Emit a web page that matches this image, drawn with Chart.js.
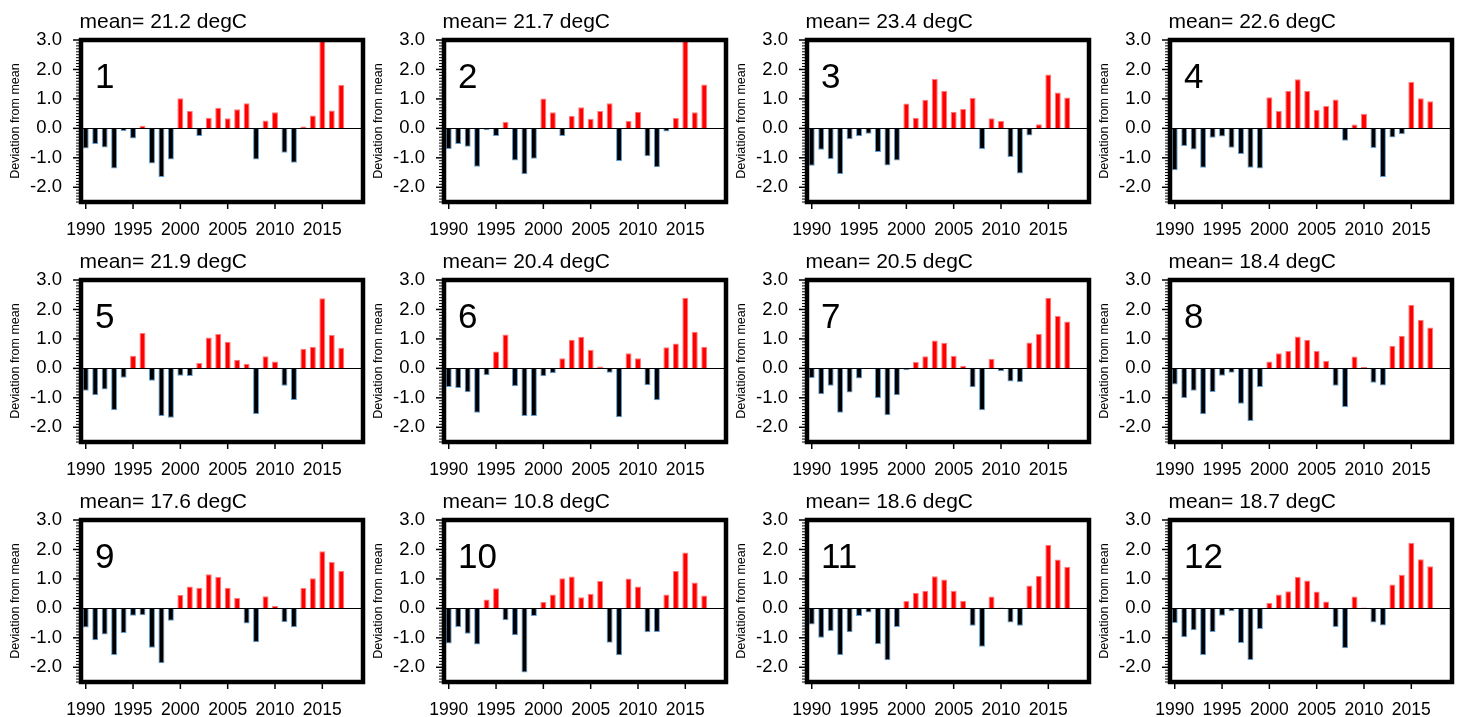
<!DOCTYPE html>
<html>
<head>
<meta charset="utf-8">
<script src="https://cdn.jsdelivr.net/npm/chart.js@4.4.1/dist/chart.umd.min.js"></script>
<style>
  html, body { margin: 0; padding: 0; background: #fff; width: 1458px; height: 717px; overflow: hidden; }
  .panel { position: absolute; width: 368px; height: 240px; }
</style>
</head>
<body>
<script>
// Years on the horizontal axis
const years = [1990, 1991, 1992, 1993, 1994, 1995, 1996, 1997, 1998, 1999,
               2000, 2001, 2002, 2003, 2004, 2005, 2006, 2007, 2008, 2009,
               2010, 2011, 2012, 2013, 2014, 2015, 2016, 2017];

// Annual deviation from the long-term mean (degC), one array per station
const dev1  = [-0.68, -0.53, -0.65, -1.36, -0.09, -0.34, 0.09, -1.19, -1.65, -1.06, 1.02, 0.59, -0.26, 0.36, 0.70, 0.34, 0.65, 0.85, -1.06, 0.27, 0.55, -0.83, -1.17, 0.06, 0.44, 3.10, 0.61, 1.47];
const dev2  = [-0.70, -0.53, -0.62, -1.30, -0.06, -0.26, 0.22, -1.09, -1.56, -1.03, 1.01, 0.55, -0.26, 0.42, 0.72, 0.33, 0.59, 0.85, -1.11, 0.25, 0.56, -0.95, -1.32, -0.11, 0.35, 3.10, 0.55, 1.49];
const dev3  = [-1.27, -0.73, -1.04, -1.55, -0.37, -0.27, -0.18, -0.80, -1.26, -1.09, 0.84, 0.36, 0.97, 1.68, 1.27, 0.56, 0.66, 1.03, -0.70, 0.34, 0.25, -0.97, -1.53, -0.24, 0.14, 1.83, 1.22, 1.05];
const dev4  = [-1.42, -0.60, -0.72, -1.34, -0.32, -0.28, -0.66, -0.87, -1.34, -1.36, 1.06, 0.59, 1.28, 1.67, 1.27, 0.63, 0.76, 0.98, -0.42, 0.13, 0.50, -0.67, -1.65, -0.31, -0.20, 1.57, 1.02, 0.92];
const dev5  = [-0.76, -0.91, -0.72, -1.42, -0.32, 0.43, 1.20, -0.42, -1.62, -1.68, -0.25, -0.26, 0.18, 1.05, 1.17, 0.90, 0.29, 0.16, -1.55, 0.41, 0.23, -0.59, -1.07, 0.67, 0.73, 2.38, 1.13, 0.70];
const dev6  = [-0.63, -0.67, -0.81, -1.51, -0.23, 0.57, 1.15, -0.61, -1.62, -1.62, -0.27, -0.17, 0.34, 0.97, 1.07, 0.63, 0.06, -0.15, -1.66, 0.51, 0.34, -0.57, -1.08, 0.72, 0.84, 2.40, 1.24, 0.73];
const dev7  = [-0.33, -0.88, -0.59, -1.51, -0.82, -0.34, -0.01, -1.01, -1.59, -0.91, -0.06, 0.22, 0.41, 0.95, 0.87, 0.43, 0.08, -0.64, -1.42, 0.33, -0.10, -0.45, -0.47, 0.88, 1.17, 2.40, 1.78, 1.59];
const dev8  = [-0.55, -1.01, -0.76, -1.56, -0.80, -0.25, -0.15, -1.20, -1.79, -0.63, 0.23, 0.51, 0.60, 1.08, 0.97, 0.59, 0.26, -0.59, -1.31, 0.40, 0.05, -0.49, -0.58, 0.77, 1.11, 2.16, 1.65, 1.39];
const dev9  = [-0.65, -1.08, -0.89, -1.58, -0.84, -0.25, -0.23, -1.34, -1.86, -0.42, 0.45, 0.74, 0.70, 1.16, 1.07, 0.70, 0.35, -0.51, -1.15, 0.41, 0.08, -0.47, -0.64, 0.69, 1.02, 1.94, 1.57, 1.27];
const dev10 = [-1.19, -0.63, -0.86, -1.23, 0.30, 0.68, -0.40, -0.91, -2.18, -0.26, 0.22, 0.47, 1.02, 1.08, 0.38, 0.50, 0.93, -1.17, -1.59, 1.01, 0.74, -0.81, -0.80, 0.47, 1.27, 1.90, 0.88, 0.44];
const dev11 = [-0.55, -1.00, -0.77, -1.58, -0.81, -0.26, -0.14, -1.22, -1.76, -0.63, 0.25, 0.53, 0.60, 1.09, 0.98, 0.60, 0.26, -0.59, -1.30, 0.40, 0.03, -0.48, -0.59, 0.78, 1.11, 2.16, 1.66, 1.41];
const dev12 = [-0.50, -0.98, -0.74, -1.58, -0.80, -0.25, -0.10, -1.18, -1.75, -0.70, 0.18, 0.47, 0.58, 1.07, 0.95, 0.57, 0.23, -0.63, -1.35, 0.40, 0.03, -0.48, -0.58, 0.81, 1.14, 2.23, 1.67, 1.43];

// Long-term mean of each station (degC)
const means = [21.2, 21.7, 23.4, 22.6, 21.9, 20.4, 20.5, 18.4, 17.6, 10.8, 18.6, 18.7];
const panelNames = ['1', '2', '3', '4', '5', '6', '7', '8', '9', '10', '11', '12'];

// Axis ticks
const xTickValues = [1990, 1995, 2000, 2005, 2010, 2015];
const yTickValues = [-2, -1, 0, 1, 2, 3];

const series = [dev1, dev2, dev3, dev4, dev5, dev6, dev7, dev8, dev9, dev10, dev11, dev12];

const FONT = '"Liberation Sans", Arial, Helvetica, sans-serif';
Chart.defaults.font.family = FONT;
Chart.defaults.color = '#000';

const CANVAS_W = 368, CANVAS_H = 240;

// Frame, zero line, tick marks and panel texts
const framePlugin = {
  id: 'panelFrame',
  afterDatasetsDraw(chart) {
    const { ctx, chartArea: a, scales: { x, y } } = chart;
    ctx.save();
    ctx.strokeStyle = '#000';
    // zero line
    const y0 = Math.round(y.getPixelForValue(0)) + 0.5;
    ctx.lineWidth = 1;
    ctx.beginPath();
    ctx.moveTo(a.left, y0);
    ctx.lineTo(a.right, y0);
    ctx.stroke();
    // y ticks: minor every 0.1, major every 1.0
    for (let i = -25; i <= 30; i++) {
      const py = y.getPixelForValue(i / 10);
      const major = i % 10 === 0;
      ctx.lineWidth = major ? 1.5 : 1;
      ctx.beginPath();
      ctx.moveTo(a.left, py);
      ctx.lineTo(a.left - (major ? 8 : 5), py);
      ctx.stroke();
    }
    // x ticks
    ctx.lineWidth = 1.5;
    xTickValues.forEach(v => {
      const px = x.getPixelForValue(v);
      ctx.beginPath();
      ctx.moveTo(px, a.bottom);
      ctx.lineTo(px, a.bottom + 7);
      ctx.stroke();
    });
    // heavy frame
    ctx.lineWidth = 4.5;
    ctx.strokeRect(a.left, a.top, a.right - a.left, a.bottom - a.top);
    ctx.restore();
  },
  afterDraw(chart, args, opts) {
    const { ctx, chartArea: a } = chart;
    ctx.save();
    ctx.fillStyle = '#000';
    ctx.textBaseline = 'alphabetic';
    ctx.textAlign = 'left';
    ctx.font = '21px ' + FONT;
    ctx.fillText(opts.title, a.left - 1.5, a.top - 12.5);
    ctx.font = '35px ' + FONT;
    ctx.fillText(opts.name, a.left + 14, a.top + 47.5);
    ctx.restore();
  }
};

series.forEach((vals, k) => {
  const col = k % 4, row = Math.floor(k / 4);
  const div = document.createElement('div');
  div.className = 'panel';
  div.style.left = (col * 363) + 'px';
  div.style.top = (row * 240) + 'px';
  const cv = document.createElement('canvas');
  cv.width = CANVAS_W;
  cv.height = CANVAS_H;
  div.appendChild(cv);
  document.body.appendChild(div);

  new Chart(cv, {
    type: 'bar',
    data: {
      datasets: [{
        data: years.map((yr, i) => ({ x: yr, y: vals[i] })),
        backgroundColor: vals.map(v => v >= 0 ? '#ff0000' : '#000000'),
        borderColor: vals.map(v => v >= 0 ? '#ff7a7a' : '#5d9fd8'),
        borderWidth: 1,
        borderSkipped: 'start',
        barPercentage: 0.63,
        categoryPercentage: 1.0,
        clip: 0
      }]
    },
    options: {
      responsive: false,
      animation: false,
      devicePixelRatio: 1,
      layout: { padding: { left: 0, top: 40, right: CANVAS_W - 363, bottom: 0 } },
      plugins: {
        legend: { display: false },
        tooltip: { enabled: false },
        panelFrame: { title: 'mean= ' + means[k].toFixed(1) + ' degC', name: panelNames[k] }
      },
      scales: {
        x: {
          type: 'linear',
          offset: false,
          min: 1989.5,
          max: 2019.3,
          grid: { display: false, drawTicks: false },
          border: { display: false },
          afterBuildTicks: s => { s.ticks = xTickValues.map(v => ({ value: v })); },
          afterFit: s => { s.height = 38; },
          ticks: {
            autoSkip: false,
            maxRotation: 0,
            padding: 18,
            font: { size: 17.5 },
            color: '#000',
            callback: v => String(v)
          }
        },
        y: {
          type: 'linear',
          min: -2.5,
          max: 3.0,
          grid: { display: false, drawTicks: false },
          border: { display: false },
          afterBuildTicks: s => { s.ticks = yTickValues.map(v => ({ value: v })); },
          afterFit: s => { s.width = 81; },
          ticks: {
            padding: 19,
            font: { size: 18.5 },
            color: '#000',
            callback: v => Number(v).toFixed(1)
          },
          title: {
            display: true,
            text: 'Deviation from mean',
            font: { size: 12.5 },
            color: '#000',
            padding: { top: 8, bottom: 0 }
          }
        }
      }
    },
    plugins: [framePlugin]
  });
});
</script>
</body>
</html>
